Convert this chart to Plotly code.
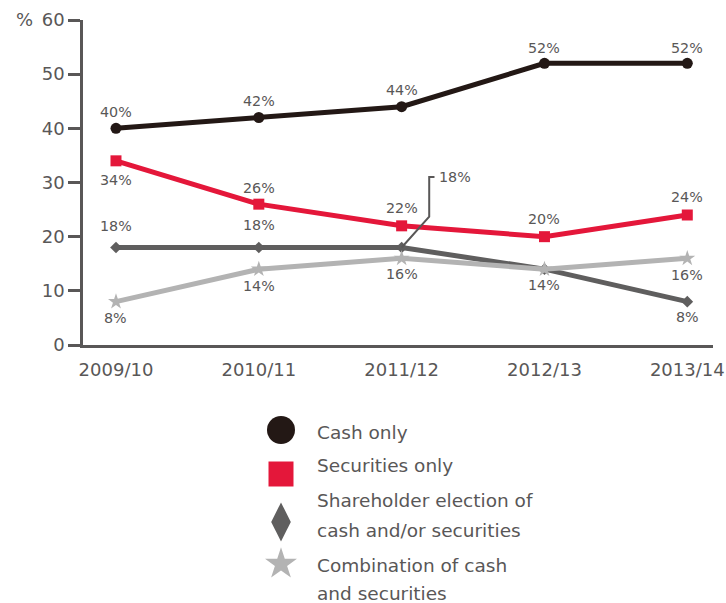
import plotly.graph_objects as go

# ---- data ----
years = ["2009/10", "2010/11", "2011/12", "2012/13", "2013/14"]
cash_only = [40, 42, 44, 52, 52]
securities_only = [34, 26, 22, 20, 24]
shareholder_election = [18, 18, 18, 14, 8]
combination = [8, 14, 16, 14, 16]
y_ticks = [0, 10, 20, 30, 40, 50, 60]

# ---- style ----
TEXT = "#595757"
FONT = "DejaVu Sans, Liberation Sans, Arial, sans-serif"
W, H = 726, 603
M_L, M_R, M_T, M_B = 83, 13, 20, 0
PLOT_H = H - M_T - M_B
AXIS_BOTTOM_PX = 345
main_bottom = (H - M_B - AXIS_BOTTOM_PX) / PLOT_H
legend_top = 0.40

xs = list(range(len(years)))

series = [
    # name lines, values, colour, symbol, marker size, legend symbol/size, label offsets (px, +up; None = no label)
    dict(name=["Combination of cash", "and securities"], y=combination, color="#b3b3b3",
         symbol="star", size=12, lsym="star", lsize=24, shifts=[-16, -17, -16, -16, -17]),
    dict(name=["Shareholder election of", "cash and/or securities"], y=shareholder_election,
         color="#5f5e5e", symbol="diamond", size=9, lsym="diamond-tall", lsize=28,
         shifts=[22, 23, None, None, -15]),
    dict(name=["Securities only"], y=securities_only, color="#e4173a", symbol="square",
         size=11, lsym="square", lsize=25, shifts=[-19, 16, 18, 18, 18]),
    dict(name=["Cash only"], y=cash_only, color="#231815", symbol="circle",
         size=11, lsym="circle", lsize=28, shifts=[16, 17, 17, 15, 15]),
]
# the diamond series is drawn beneath the star series
draw_order = [1, 0, 2, 3]

fig = go.Figure()
annotations = []

for i in draw_order:
    s = series[i]
    fig.add_trace(go.Scatter(
        x=xs, y=s["y"], mode="lines+markers", showlegend=False,
        line=dict(color=s["color"], width=5),
        marker=dict(symbol=s["symbol"], size=s["size"], color=s["color"],
                    line=dict(width=0)),
        cliponaxis=False,
    ))
    for xi, (v, sh) in enumerate(zip(s["y"], s["shifts"])):
        if sh is None:
            continue
        annotations.append(dict(
            x=xi, y=v, xref="x", yref="y", text=f"{v}%", showarrow=False,
            yshift=sh, font=dict(size=14.3, color=TEXT, family=FONT),
        ))

# callout for the 2011/12 shareholder-election value
callout_idx = 2
cv = shareholder_election[callout_idx]
fig.add_shape(type="path", xref="x", yref="y",
              path=f"M {callout_idx},{cv} L {callout_idx + 0.193},{cv + 5.7} "
                   f"L {callout_idx + 0.193},{cv + 13} L {callout_idx + 0.23},{cv + 13}",
              line=dict(color=TEXT, width=2))
annotations.append(dict(x=callout_idx + 0.245, y=cv + 13, xref="x", yref="y",
                        text=f"{cv}%", showarrow=False, xanchor="left",
                        font=dict(size=14.3, color=TEXT, family=FONT)))

# "%" unit label, top-left of the value axis
annotations.append(dict(x=(14 - M_L) / (W - M_L - M_R), y=(H - M_B - 19) / PLOT_H,
                        xref="paper", yref="paper", text="%", showarrow=False,
                        xanchor="left", yanchor="middle",
                        font=dict(size=18, color=TEXT, family=FONT)))

# ---- legend (drawn on a hidden pixel-scaled axis beneath the chart) ----
legend_rows = [3, 2, 1, 0]
legend_marker_y = [430, 474, 522, 564]
legend_text_y = [[432], [465], [500, 530], [565, 593]]
for row, my, ty in zip(legend_rows, legend_marker_y, legend_text_y):
    s = series[row]
    fig.add_trace(go.Scatter(
        x=[281], y=[my], xaxis="x2", yaxis="y2", mode="markers", showlegend=False,
        marker=dict(symbol=s["lsym"], size=s["lsize"], color=s["color"], line=dict(width=0)),
        cliponaxis=False, hoverinfo="skip",
    ))
    for line_text, yy in zip(s["name"], ty):
        annotations.append(dict(x=315, y=yy, xref="x2", yref="y2", text=line_text,
                                showarrow=False, xanchor="left",
                                font=dict(size=18.5, color=TEXT, family=FONT)))

fig.update_layout(
    template="none",
    width=W, height=H, autosize=False,
    margin=dict(l=M_L, r=M_R, t=M_T, b=M_B, pad=0),
    paper_bgcolor="white", plot_bgcolor="white",
    font=dict(family=FONT, color=TEXT, size=18),
    xaxis=dict(
        domain=[0, 1], anchor="y", range=[-0.231, 4.18], automargin=False,
        tickmode="array", tickvals=xs, ticktext=years,
        showgrid=False, zeroline=False, showline=True, linecolor=TEXT, linewidth=2.5,
        ticks="", ticklabelstandoff=7, tickfont=dict(size=18, color=TEXT, family=FONT),
    ),
    yaxis=dict(
        domain=[main_bottom, 1], anchor="x", range=[0, 60], automargin=False,
        tickmode="array", tickvals=y_ticks,
        showgrid=False, zeroline=False, showline=True, linecolor=TEXT, linewidth=2.5,
        ticks="outside", ticklen=12, tickwidth=2.5, tickcolor=TEXT,
        ticklabelstandoff=0, tickfont=dict(size=18, color=TEXT, family=FONT),
    ),
    xaxis2=dict(domain=[0, 1], anchor="y2", range=[M_L, W - M_R], visible=False,
                fixedrange=True, automargin=False),
    yaxis2=dict(domain=[0, legend_top], anchor="x2",
                range=[H - M_B, H - M_B - legend_top * PLOT_H], visible=False,
                fixedrange=True, automargin=False),
    annotations=annotations,
    showlegend=False,
)

fig.write_html("out.html")
